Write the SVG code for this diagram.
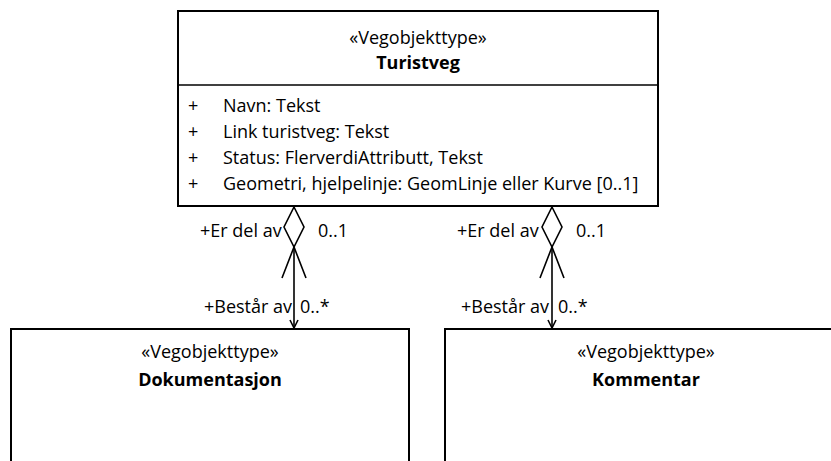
<svg xmlns="http://www.w3.org/2000/svg" width="831" height="461" viewBox="0 0 831 461">
<style>
.box{fill:#fff;stroke:#000;stroke-width:2}
.t{font-family:"Open Sans","Liberation Sans",Arial,sans-serif;font-size:18px;fill:#000}
.c{text-anchor:middle}
.b{font-weight:bold}
.ln{stroke:#000;stroke-width:1.6;fill:none}
.dia{fill:#fff;stroke:#000;stroke-width:1.6}
</style>
<rect width="831" height="461" fill="#fff"/>
<g id="turistveg">
<rect class="box" x="178" y="11" width="480" height="195"/>
<line class="ln" x1="178" y1="85" x2="658" y2="85" stroke-width="2"/>
<text class="t c" x="418" y="44">«Vegobjekttype»</text>
<text class="t c b" x="418" y="69">Turistveg</text>
<text class="t" x="188" y="112">+</text><text class="t" x="223" y="112">Navn: Tekst</text>
<text class="t" x="188" y="138">+</text><text class="t" x="223" y="138">Link turistveg: Tekst</text>
<text class="t" x="188" y="164">+</text><text class="t" x="223" y="164">Status: FlerverdiAttributt, Tekst</text>
<text class="t" x="188" y="190">+</text><text class="t" x="223" y="190">Geometri, hjelpelinje: GeomLinje eller Kurve [0..1]</text>
</g>
<g id="dokumentasjon">
<rect class="box" x="11" y="329" width="398" height="150"/>
<text class="t c" x="210" y="358">«Vegobjekttype»</text>
<text class="t c b" x="210" y="386">Dokumentasjon</text>
</g>
<g id="kommentar">
<rect class="box" x="445" y="329" width="402" height="150"/>
<text class="t c" x="646" y="358">«Vegobjekttype»</text>
<text class="t c b" x="646" y="386">Kommentar</text>
</g>
<g id="connectors">
<line class="ln" x1="294" y1="247" x2="294" y2="328"/>
<polygon class="dia" points="294,207 304,227 294,247 284,227"/>
<polyline class="ln" points="282,278 294,247 306,278"/>
<polyline class="ln" points="290,320 294,328 298,320"/>
<text class="t" x="200" y="237">+Er del av</text>
<text class="t" x="318" y="237">0..1</text>
<text class="t" x="204" y="313">+Består av</text>
<text class="t" x="300" y="313">0..*</text>
<line class="ln" x1="552" y1="247" x2="552" y2="328"/>
<polygon class="dia" points="552,207 562,227 552,247 542,227"/>
<polyline class="ln" points="540,278 552,247 564,278"/>
<polyline class="ln" points="548,320 552,328 556,320"/>
<text class="t" x="457" y="237">+Er del av</text>
<text class="t" x="576" y="237">0..1</text>
<text class="t" x="461" y="313">+Består av</text>
<text class="t" x="558" y="313">0..*</text>
</g>
</svg>
